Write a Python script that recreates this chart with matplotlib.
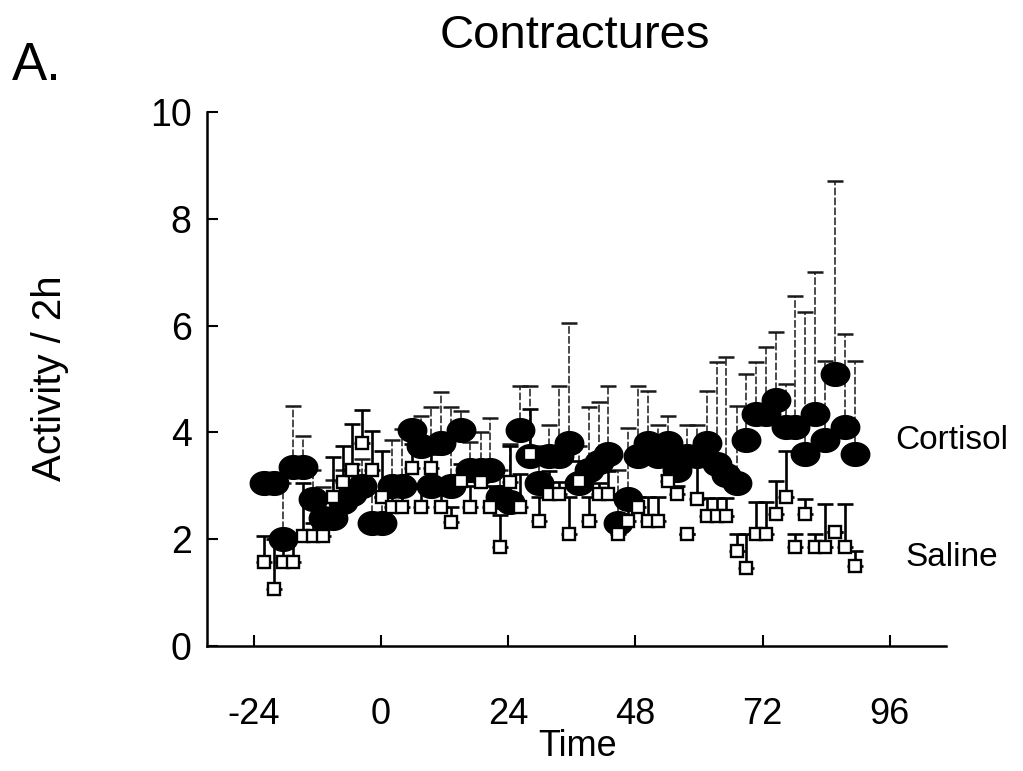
import numpy as np
import matplotlib
matplotlib.use("Agg")
import matplotlib.pyplot as plt
from matplotlib.path import Path

plt.rcParams['font.family'] = ['Liberation Sans', 'DejaVu Sans']

# ---- data ----
time_h = [-22.1, -20.2, -18.4, -16.5, -14.7, -12.8, -10.9, -9.1, -7.2, -5.4,
          -3.5, -1.7, 0.2, 2.1, 3.9, 5.8, 7.6, 9.5, 11.3, 13.2,
          15.1, 16.9, 18.8, 20.6, 22.5, 24.4, 26.2, 28.1, 29.9, 31.8,
          33.6, 35.5, 37.4, 39.2, 41.1, 42.9, 44.8, 46.7, 48.5, 50.4,
          52.2, 54.1, 55.9, 57.8, 59.7, 61.5, 63.4, 65.2, 67.1, 68.9,
          70.8, 72.7, 74.5, 76.4, 78.2, 80.1, 81.9, 83.8, 85.7, 87.5, 89.4]

cortisol_mean = [3.05, 3.05, 2.0, 3.35, 3.35, 2.75, 2.4, 2.4, 2.7, 2.85,
                 3.0, 2.3, 2.3, 3.0, 3.0, 4.05, 3.75, 3.0, 3.8, 3.0,
                 4.05, 3.3, 3.3, 3.3, 2.8, 2.7, 4.05, 3.55, 3.05, 3.55,
                 3.55, 3.8, 3.05, 3.3, 3.45, 3.6, 2.3, 2.75, 3.55, 3.8,
                 3.55, 3.8, 3.3, 3.55, 3.55, 3.8, 3.4, 3.2, 3.05, 3.85,
                 4.35, 4.35, 4.6, 4.1, 4.1, 3.6, 4.35, 3.85, 5.1, 4.1, 3.6]

cortisol_top = [3.2, 3.2, 3.05, 4.5, 3.93, 3.3, 2.98, 3.1, 3.3, 3.4,
                3.5, 2.9, 2.8, 3.86, 4.06, 4.2, 4.3, 4.47, 4.75, 4.47,
                4.4, 3.82, 4.0, 4.27, 3.3, 3.78, 4.87, 4.87, 3.75, 4.14,
                4.87, 6.05, 3.75, 4.48, 4.57, 4.87, 3.3, 4.08, 4.87, 4.78,
                4.14, 4.31, 3.7, 4.14, 4.14, 4.78, 5.32, 5.41, 4.5, 5.09,
                5.32, 5.6, 5.88, 4.9, 6.55, 6.25, 7.0, 5.34, 8.7, 5.84, 5.34]

saline_mean = [1.57, 1.07, 1.57, 1.57, 2.06, 2.06, 2.06, 2.8, 3.07, 3.3,
               3.8, 3.3, 2.8, 2.6, 2.6, 3.33, 2.6, 3.33, 2.6, 2.32,
               3.09, 2.6, 3.07, 2.6, 1.85, 3.07, 2.6, 3.6, 2.34, 2.85,
               2.85, 2.1, 3.09, 2.34, 2.85, 2.85, 2.1, 2.34, 2.6, 2.34,
               2.34, 3.09, 2.85, 2.1, 2.75, 2.43, 2.43, 2.43, 1.78, 1.46,
               2.1, 2.1, 2.47, 2.8, 1.85, 2.47, 1.85, 1.85, 2.13, 1.85, 1.5]

saline_top = [2.06, 2.0, 2.06, 2.06, 3.05, 2.3, 2.3, 3.54, 3.75, 4.16,
              4.42, 4.03, 3.65, 2.9, 2.9, 3.78, 3.0, 3.6, 3.0, 2.6,
              3.4, 3.0, 3.4, 3.0, 2.45, 3.75, 3.22, 4.44, 2.8, 3.28,
              3.07, 2.79, 3.46, 2.8, 3.05, 3.28, 2.4, 2.6, 2.8, 2.8,
              2.8, 3.2, 3.0, 2.1, 3.4, 2.77, 2.77, 2.77, 2.1, 2.1,
              2.7, 2.7, 3.09, 3.65, 2.1, 2.75, 2.1, 2.66, 2.13, 2.66, 1.78]

x_ticks = [-24, 0, 24, 48, 72, 96]
y_ticks = [0, 2, 4, 6, 8, 10]

# ---- figure ----
fig = plt.figure(figsize=(10.23, 7.71), dpi=100)
ax = fig.add_axes([0.2023, 0.1621, 0.7224, 0.6926])

t = np.array(time_h)
cm = np.array(cortisol_mean)
ct = np.array(cortisol_top)
sm = np.array(saline_mean)
st = np.array(saline_top)

# ellipse marker for filled circles
th = np.linspace(0, 2 * np.pi, 72)
ell = Path(np.column_stack([1.2 * np.cos(th), np.sin(th)]), closed=True)

# cortisol error bars (upper only)
eb1 = ax.errorbar(t, cm, yerr=[np.zeros_like(cm), ct - cm], fmt='none',
                  ecolor='0.1', elinewidth=1.1, capsize=5.5, capthick=1.8,
                  zorder=1)
for lc in eb1[2]:
    lc.set_linestyle((0, (5, 1.5)))
# saline error bars (upper only)
ax.errorbar(t, sm, yerr=[np.zeros_like(sm), st - sm], fmt='none',
            ecolor='black', elinewidth=1.9, capsize=5.5, capthick=1.9,
            zorder=2)

ax.plot(t, cm, linestyle='none', marker=ell, markersize=20.5,
        markerfacecolor='black', markeredgecolor='black', zorder=3)
ax.plot(t, sm, linestyle='none', marker='s', markersize=9,
        markerfacecolor='white', markeredgecolor='black',
        markeredgewidth=1.7, zorder=4)

ax.set_xlim(-32.8, 106.6)
ax.set_ylim(0, 10)
ax.set_xticks(x_ticks)
ax.set_yticks(y_ticks)
ax.set_xticklabels([str(v) for v in x_ticks])
ax.set_yticklabels([str(v) for v in y_ticks])

for s in ['top', 'right']:
    ax.spines[s].set_visible(False)
for s in ['left', 'bottom']:
    ax.spines[s].set_linewidth(1.8)

ax.tick_params(axis='both', direction='in', length=8, width=1.5,
               labelsize=26)
ax.tick_params(axis='y', labelsize=27)
ax.tick_params(axis='x', pad=37)
ax.tick_params(axis='y', pad=11)

ax.text(97, 3.85, 'Cortisol', fontsize=24, va='center', ha='left',
        clip_on=False)
ax.text(98.9, 1.65, 'Saline', fontsize=24, va='center', ha='left',
        clip_on=False)

fig.text(0.562, 0.953, 'Contractures', fontsize=34, ha='center', va='center')
fig.text(0.012, 0.914, 'A.', fontsize=38, ha='left', va='center')
fig.text(0.049, 0.51, 'Activity / 2h', fontsize=29, rotation=90,
         ha='center', va='center')
fig.text(0.565, 0.032, 'Time', fontsize=26, ha='center', va='center')

fig.savefig('out.png', dpi=100)
